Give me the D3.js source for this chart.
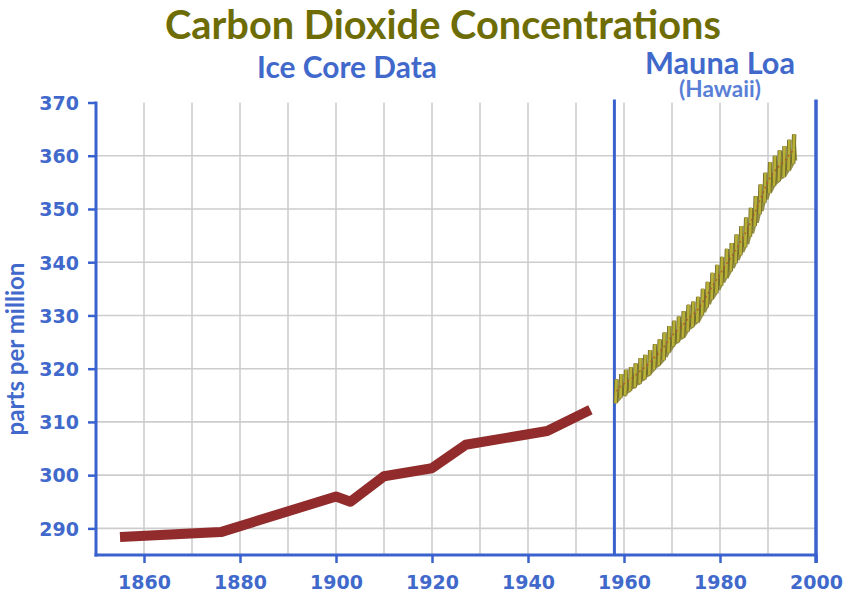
<!DOCTYPE html>
<html>
<head>
<meta charset="utf-8">
<script src="https://cdn.jsdelivr.net/npm/d3@7"></script>
<style>
  html, body { margin: 0; padding: 0; background: #fff; }
  svg { display: block; }
</style>
</head>
<body>
<svg id="chart" width="847" height="597"></svg>
<script>
// ---------------- DATA ----------------
const titleText = "Carbon Dioxide Concentrations";
const iceLabel = "Ice Core Data";
const maunaLabel = "Mauna Loa";
const hawaiiLabel = "(Hawaii)";
const yAxisLabel = "parts per million";

const yTicks = [290, 300, 310, 320, 330, 340, 350, 360, 370];
const xTicks = [1860, 1880, 1900, 1920, 1940, 1960, 1980, 2000];
const xGrid = [1860, 1870, 1880, 1890, 1900, 1910, 1920, 1930, 1940, 1950, 1960, 1970, 1980, 1990];
const yGrid = [290, 300, 310, 320, 330, 340, 350, 360];

// Ice core record
const iceYears = [1855, 1876, 1900, 1903, 1910, 1920, 1927, 1944, 1953];
const icePpm   = [288.4, 289.3, 296.0, 295.0, 299.8, 301.3, 305.7, 308.3, 312.3];

// Mauna Loa record: yearly seasonal low / high
const mlYears = [1958,1959,1960,1961,1962,1963,1964,1965,1966,1967,1968,1969,1970,1971,1972,1973,1974,1975,1976,1977,1978,1979,1980,1981,1982,1983,1984,1985,1986,1987,1988,1989,1990,1991,1992,1993,1994,1995];
const mlLow  = [313.5,314.5,315.0,315.8,316.5,317.2,318.0,318.8,319.8,320.6,321.6,323.0,324.2,325.0,325.8,327.0,327.8,328.7,330.0,331.5,333.0,334.2,335.6,337.0,338.3,339.8,341.3,342.8,344.8,346.8,349.0,351.2,353.0,354.3,355.2,356.0,357.2,358.5];
const mlHigh = [318.0,319.0,319.8,320.3,321.0,322.0,322.6,323.5,324.6,325.5,326.8,328.0,329.0,329.8,330.8,332.0,332.6,333.5,335.0,336.3,338.0,339.5,341.0,342.5,343.6,345.2,346.8,348.4,350.2,352.4,354.6,356.8,358.8,360.0,361.0,361.8,363.0,364.0];
const splitYear = 1958;

// ---------------- STYLE ----------------
const blue = "#3a62cf";
const blueText = "#4169cc";
const olive = "#6e6c05";
const gridCol = "#cdcdcd";

const svg = d3.select("#chart");

const x = d3.scaleLinear().domain([1850, 2000]).range([96, 816]);
const y = d3.scaleLinear().domain([285, 370]).range([555, 102.5]);

function fit(sel, width) {
  const w = sel.node().getComputedTextLength();
  const fs = parseFloat(sel.attr("font-size"));
  sel.attr("font-size", fs * width / w);
}

// Grid
svg.append("g").selectAll("line").data(xGrid).join("line")
  .attr("x1", d => x(d)).attr("x2", d => x(d))
  .attr("y1", y(370)).attr("y2", y(285))
  .attr("stroke", gridCol).attr("stroke-width", 1.6);
svg.append("g").selectAll("line").data(yGrid).join("line")
  .attr("x1", x(1850)).attr("x2", x(2000))
  .attr("y1", d => y(d)).attr("y2", d => y(d))
  .attr("stroke", gridCol).attr("stroke-width", 1.6);

// Axes
const yAxis = d3.axisLeft(y).tickValues(yTicks).tickSize(8).tickPadding(9).tickFormat(d3.format("d"));
const gy = svg.append("g").attr("transform", `translate(${x(1850)},0)`).call(yAxis);
gy.select(".domain").remove();
gy.selectAll(".tick line").attr("stroke", blue).attr("stroke-width", 2.5);
gy.selectAll(".tick text").attr("fill", blueText).attr("font-family", "DejaVu Sans")
  .attr("font-weight", "bold").attr("font-size", 19).attr("dy", "0.36em");

const xAxis = d3.axisBottom(x).tickValues(xTicks).tickSize(8).tickPadding(13).tickFormat(d3.format("d"));
const gx = svg.append("g").attr("transform", `translate(0,${y(285)})`).call(xAxis);
gx.select(".domain").remove();
gx.selectAll(".tick line").attr("stroke", blue).attr("stroke-width", 2.5);
gx.selectAll(".tick text").attr("fill", blueText).attr("font-family", "DejaVu Sans")
  .attr("font-weight", "bold").attr("font-size", 19);

// axis lines
svg.append("line").attr("x1", x(1850)).attr("x2", x(1850)).attr("y1", y(370) - 1).attr("y2", y(285) + 1.5)
  .attr("stroke", blue).attr("stroke-width", 3);
svg.append("line").attr("x1", x(1850) - 1.5).attr("x2", x(2000) + 1.5).attr("y1", y(285)).attr("y2", y(285))
  .attr("stroke", blue).attr("stroke-width", 3);
svg.append("line").attr("x1", x(splitYear)).attr("x2", x(splitYear)).attr("y1", y(370) - 3).attr("y2", y(285))
  .attr("stroke", blue).attr("stroke-width", 3);
svg.append("line").attr("x1", x(2000)).attr("x2", x(2000)).attr("y1", y(370) - 3).attr("y2", y(285) + 8)
  .attr("stroke", blue).attr("stroke-width", 3.5);

// Ice core line
const iceData = iceYears.map((d, i) => [d, icePpm[i]]);
svg.append("path").datum(iceData)
  .attr("d", d3.line().x(d => x(d[0])).y(d => y(d[1])))
  .attr("fill", "none").attr("stroke", "#922c2c").attr("stroke-width", 10)
  .attr("stroke-linejoin", "round").attr("stroke-linecap", "butt");

// Mauna Loa: seasonal bars per year + connecting zigzag
const mlLine = d3.line().x(d => x(d[0])).y(d => y(d[1]));
const mlPts = [];
mlYears.forEach((yr, i) => {
  mlPts.push([yr + 0.25, mlLow[i]]);
  mlPts.push([yr + 0.45, mlHigh[i]]);
  mlPts.push([yr + 0.85, mlLow[i] + 0.6]);
});
const bars = mlYears.map((yr, i) => ({yr, lo: mlLow[i], hi: mlHigh[i]}));
const gml = svg.append("g");
gml.append("path").datum(mlPts).attr("d", mlLine)
  .attr("fill", "none").attr("stroke", "#8a8433").attr("stroke-width", 2.4).attr("opacity", 0.9);
gml.selectAll("line.b1").data(bars).join("line")
  .attr("x1", d => x(d.yr + 0.25)).attr("x2", d => x(d.yr + 0.45))
  .attr("y1", d => y(d.lo)).attr("y2", d => y(d.hi))
  .attr("stroke", "#6b6528").attr("stroke-width", 4.4);
gml.selectAll("line.b2").data(bars).join("line")
  .attr("x1", d => x(d.yr + 0.25)).attr("x2", d => x(d.yr + 0.45))
  .attr("y1", d => y(d.lo)).attr("y2", d => y(d.hi))
  .attr("stroke", "#b8b036").attr("stroke-width", 2.8);
const mlMid = mlYears.map((yr, i) => [yr + 0.4, (mlLow[i] + mlHigh[i]) / 2]);
gml.append("path").datum(mlMid).attr("d", mlLine)
  .attr("fill", "none").attr("stroke", "#b5502a").attr("stroke-width", 1.5)
  .attr("stroke-dasharray", "2,3").attr("opacity", 0.8);

// Titles
const t = svg.append("text").text(titleText).attr("x", 443).attr("y", 39)
  .attr("text-anchor", "middle").attr("font-family", "Lato").attr("font-weight", "bold")
  .attr("font-size", 32).attr("fill", olive);
fit(t, 556);

const t2 = svg.append("text").text(iceLabel).attr("x", 347).attr("y", 78)
  .attr("text-anchor", "middle").attr("font-family", "Lato").attr("font-weight", "bold")
  .attr("font-size", 24).attr("fill", blueText);
fit(t2, 180);

const t3 = svg.append("text").text(maunaLabel).attr("x", 720).attr("y", 74)
  .attr("text-anchor", "middle").attr("font-family", "Lato").attr("font-weight", "bold")
  .attr("font-size", 24).attr("fill", blueText);
fit(t3, 150);

const t4 = svg.append("text").text(hawaiiLabel).attr("x", 720).attr("y", 97)
  .attr("text-anchor", "middle").attr("font-family", "Lato").attr("font-weight", "bold")
  .attr("font-size", 15).attr("fill", "#5a7fd6");
fit(t4, 82);

const t5 = svg.append("text").text(yAxisLabel)
  .attr("transform", "translate(24,349) rotate(-90)")
  .attr("text-anchor", "middle").attr("font-family", "Lato").attr("font-weight", "bold")
  .attr("font-size", 16).attr("fill", blueText);
fit(t5, 173);
</script>
</body>
</html>
